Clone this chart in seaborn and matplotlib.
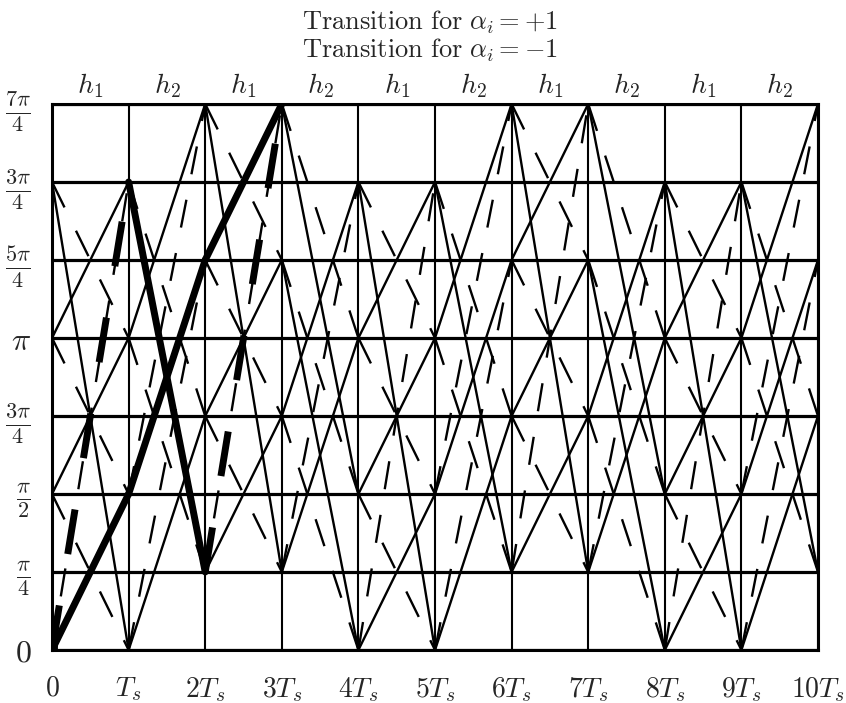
import numpy as np
import pandas as pd
import matplotlib
matplotlib.use('Agg')
import matplotlib.pyplot as plt
import seaborn as sns

# phase step per symbol interval, in units of pi/4  (h1 = 1/2 -> 2, h2 = 3/4 -> 3)
h_step = [2, 3, 2, 3, 2, 3, 2, 3, 2, 3]
h_names = ['$h_1$', '$h_2$', '$h_1$', '$h_2$', '$h_1$', '$h_2$', '$h_1$', '$h_2$', '$h_1$', '$h_2$']
start_states = [0, 2, 4, 6]
n_states = 8

# the two highlighted paths that leave 0 and merge at 7pi/4 after 3 symbols
bold_t = [0, 1, 2, 3]
path_a = [0, 2, 5, 7]
path_a_alpha = [1, 1, 1]
path_b = [0, 6, 1, 7]
path_b_alpha = [-1, 1, -1]

y_labels = ['$0$', r'$\frac{\pi}{4}$', r'$\frac{\pi}{2}$', r'$\frac{3\pi}{4}$', r'$\pi$',
            r'$\frac{5\pi}{4}$', r'$\frac{3\pi}{4}$', r'$\frac{7\pi}{4}$']
x_labels = ['$0$', '$T_s$', '$2T_s$', '$3T_s$', '$4T_s$', '$5T_s$', '$6T_s$', '$7T_s$',
            '$8T_s$', '$9T_s$', '$10T_s$']

sns.set_style('white')
plt.rcParams['mathtext.fontset'] = 'cm'
plt.rcParams['font.family'] = ['DejaVu Serif']

# full trellis: every state, both symbols, straight line to (s +- h) mod 2pi
rows = []
states = start_states
eid = 0
for k, h in enumerate(h_step):
    nxt = set()
    for s in states:
        for a in (1, -1):
            e = (s + a * h) % n_states
            rows.append({'t': k, 'phase': s, 'edge': eid, 'alpha': a})
            rows.append({'t': k + 1, 'phase': e, 'edge': eid, 'alpha': a})
            nxt.add(e)
            eid += 1
    states = sorted(nxt)
trellis = pd.DataFrame(rows)

bold_rows = []
eid = 0
for path, alphas in [(path_a, path_a_alpha), (path_b, path_b_alpha)]:
    for i, a in enumerate(alphas):
        bold_rows.append({'t': bold_t[i], 'phase': path[i], 'edge': eid, 'alpha': a})
        bold_rows.append({'t': bold_t[i + 1], 'phase': path[i + 1], 'edge': eid, 'alpha': a})
        eid += 1
bold = pd.DataFrame(bold_rows)

fig = plt.figure(figsize=(8.46, 7.03), dpi=100)
ax = fig.add_axes([0.0615, 0.0754, 0.9054, 0.7767])

for k in range(len(h_step) + 1):
    ax.axvline(k, color='black', lw=1.5, zorder=1)
for s in range(n_states):
    ax.axhline(s, color='black', lw=2.3, zorder=1)

sns.lineplot(data=trellis, x='t', y='phase', units='edge', estimator=None, sort=False,
             style='alpha', dashes={1: '', -1: (12, 11)}, color='black', lw=1.7,
             legend=False, ax=ax, zorder=2)
sns.lineplot(data=bold, x='t', y='phase', units='edge', estimator=None, sort=False,
             style='alpha', dashes={1: '', -1: (6.5, 7.5)}, color='black', lw=5,
             legend=False, ax=ax, zorder=3)
sns.scatterplot(x=[bold_t[0]], y=[path_a[0]], marker='s', s=60, color='black',
                edgecolor='black', ax=ax, zorder=4, legend=False)

ax.set_xlim(0, len(h_step))
ax.set_ylim(0, n_states - 1)
ax.set_xticks(range(len(h_step) + 1))
ax.set_xticklabels(x_labels, fontsize=20)
ax.set_yticks(range(n_states))
ax.set_yticklabels(y_labels, fontsize=23)
ax.tick_params(axis='both', direction='out', length=5, width=1.5, color='black')
ax.tick_params(axis='x', pad=13)
ax.tick_params(axis='y', pad=10)
ax.set_xlabel('')
ax.set_ylabel('')
for sp in ax.spines.values():
    sp.set_color('black')
    sp.set_linewidth(2.2)

for k, name in enumerate(h_names):
    ax.annotate(name, xy=(k + 0.5, n_states - 1), xytext=(0, 3), textcoords='offset points',
                ha='center', va='bottom', fontsize=20)

fig.text(0.508, 0.968, r'$\mathrm{Transition\ for}\ \alpha_i = +1$', ha='center', va='center', fontsize=19)
fig.text(0.508, 0.928, r'$\mathrm{Transition\ for}\ \alpha_i = -1$', ha='center', va='center', fontsize=19)

fig.savefig('out.png', dpi=100)
